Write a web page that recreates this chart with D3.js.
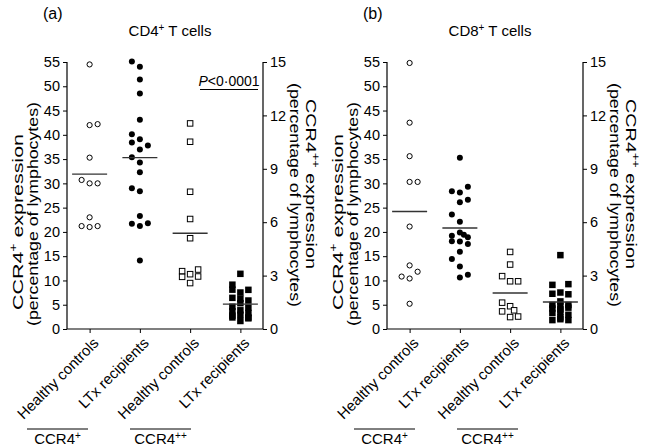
<!DOCTYPE html>
<html><head><meta charset="utf-8">
<script src="https://cdn.jsdelivr.net/npm/d3@7"></script>
<style>
html,body{margin:0;padding:0;background:#fff;}
svg{display:block;font-family:"Liberation Sans",Arial,Helvetica,sans-serif;}
</style></head>
<body>
<svg id="chart" width="649" height="448"></svg>
<script>
// ---------- data ----------
const categories = ["Healthy controls", "LTx recipients", "Healthy controls", "LTx recipients"];
const leftTicks = [0, 5, 10, 15, 20, 25, 30, 35, 40, 45, 50, 55];
const rightTicks = [0, 3, 6, 9, 12, 15];
const panelLetters = ["(a)", "(b)"];
const panelTitles = ["CD4", "CD8"];

// Panel (a) CD4+ T cells
const aHealthyCCR4p = [54.5, 42.0, 42.2, 35.3, 30.7, 30.0, 30.0, 23.0, 21.2, 21.0, 21.2];
const aHealthyCCR4pCol = [0, 0, 1, 0, -1, 0, 1, 0, -1, 0, 1];
const aLTxCCR4p = [55.1, 54.0, 51.4, 48.5, 43.1, 40.1, 39.1, 38.4, 37.0, 37.8, 35.4, 34.3, 32.3, 29.0, 28.4, 23.3, 21.7, 21.2, 21.8, 14.1];
const aLTxCCR4pCol = [-1, 0, 0, 0, 0, -1, 0, -1, 0, 1, -1, 0, 0, -1, 0, 0, -1, 0, 1, 0];
const aHealthyCCR4pp = [11.55, 10.52, 7.71, 6.18, 5.10, 3.25, 2.93, 3.08, 2.58, 3.34, 2.95];
const aHealthyCCR4ppCol = [0, 0, 0, 0, 0, -1, -1, 0, 0, 1, 1];
const aLTxCCR4pp = [3.10, 2.49, 2.21, 2.05, 2.20, 1.75, 1.70, 1.60, 1.45, 1.25, 1.20, 1.00, 1.05, 0.90, 0.75, 0.80, 0.60, 0.65, 0.45, 0.65];
const aLTxCCR4ppCol = [0, -1, -1, 0, 1, -1, 0, 1, 0, -1, 1, -1, 0, 1, -1, 0, 1, -1, 0, 1];
const aMeans = [31.9, 35.3, 5.38, 1.40];   // first two on left scale, last two on right scale

// Panel (b) CD8+ T cells
const bHealthyCCR4p = [54.8, 42.5, 35.6, 30.3, 30.3, 21.1, 13.1, 11.8, 10.8, 10.4, 5.2];
const bHealthyCCR4pCol = [0, 0, 0, 0, 1, 0, 0, 1, -1, 0, 0];
const bLTxCCR4p = [35.3, 28.4, 28.1, 29.3, 26.1, 26.6, 23.6, 22.1, 19.9, 19.4, 18.9, 19.2, 18.1, 18.0, 17.5, 15.9, 14.4, 12.9, 10.6, 11.2];
const bLTxCCR4pCol = [0, -1, 0, 1, 0, 1, -1, 0, 0, 0.5, 1, -1, -1, 0, 1, 0, -1, 0, 0, 1];
const bHealthyCCR4pp = [4.33, 3.62, 2.97, 2.68, 2.68, 1.48, 1.28, 1.05, 0.99, 0.67, 0.70];
const bHealthyCCR4ppCol = [0, 0, -1, 0, 1, -1, 0, 0.5, -1, 0, 1];
const bLTxCCR4pp = [4.15, 2.48, 2.52, 2.05, 1.98, 1.95, 1.55, 1.35, 1.30, 1.35, 1.15, 1.10, 1.20, 0.95, 0.90, 0.80, 0.65, 0.50, 0.50, 0.55];
const bLTxCCR4ppCol = [0, -1, 1, 0, -1, 1, 0, -1, 0, 1, -1, 0, 1, 0, -1, 1, 0, -1, 1, 0];
const bMeans = [24.2, 20.8, 2.02, 1.52];

const pValueText = "<0·0001";

// ---------- drawing ----------
const svg = d3.select("#chart");

// stretch a rotated title along its baseline to a target length
function fit(sel, base, target) {
  const len = sel.node().getComputedTextLength();
  sel.attr("transform", `${base} scale(${target / len},1)`);
}

function drawPanel(ox, idx, series, means, showP) {
  const g = svg.append("g").attr("transform", `translate(${ox},0)`);
  const x0 = 67, x1 = 263, yTop = 62, yBot = 329;
  const x = d3.scalePoint().domain(d3.range(categories.length)).range([x0, x1]).padding(0.45);
  const yL = d3.scaleLinear().domain([0, 55]).range([yBot, yTop]);
  const yR = d3.scaleLinear().domain([0, 15]).range([yBot, yTop]);

  // axes
  const axL = g.append("g").attr("transform", `translate(${x0},0)`)
    .call(d3.axisLeft(yL).tickValues(leftTicks).tickSize(4).tickPadding(3));
  const axR = g.append("g").attr("transform", `translate(${x1},0)`)
    .call(d3.axisRight(yR).tickValues(rightTicks).tickSize(4).tickPadding(3));
  const axB = g.append("g").attr("transform", `translate(0,${yBot})`)
    .call(d3.axisBottom(x).tickSize(4).tickFormat(""));
  [axL, axR, axB].forEach(a => {
    a.select(".domain").attr("stroke", "#000").attr("stroke-width", 1.2);
    a.selectAll(".tick line").attr("stroke", "#000");
    a.selectAll(".tick text").attr("font-size", 14.5).attr("fill", "#000")
      .attr("font-family", "Liberation Sans, Arial, sans-serif");
  });
  axB.select(".domain").attr("d", `M${x0},0H${x1}`);
  axL.select(".domain").attr("d", `M0,${yTop}V${yBot}`);
  axR.select(".domain").attr("d", `M0,${yTop}V${yBot}`);

  // category labels
  categories.forEach((c, i) => {
    g.append("text")
      .attr("transform", `translate(${x(i) + 10},${yBot + 15}) rotate(-45)`)
      .attr("text-anchor", "end").attr("font-size", 15).text(c);
  });

  // data points
  const J = 8;
  const scales = [yL, yL, yR, yR];
  series.forEach((s, i) => {
    const sc = scales[i];
    const pts = s.vals.map((v, k) => ({ v, c: s.cols[k] }));
    if (s.shape === "circle") {
      g.selectAll(null).data(pts).enter().append("circle")
        .attr("cx", d => x(i) + d.c * J).attr("cy", d => sc(d.v))
        .attr("r", s.filled ? 3 : 2.6)
        .attr("fill", s.filled ? "#000" : "#fff")
        .attr("stroke", "#000").attr("stroke-width", s.filled ? 0 : 1);
    } else {
      const sz = s.filled ? 6.5 : 5.5;
      g.selectAll(null).data(pts).enter().append("rect")
        .attr("x", d => x(i) + d.c * J - sz / 2).attr("y", d => sc(d.v) - sz / 2)
        .attr("width", sz).attr("height", sz)
        .attr("fill", s.filled ? "#000" : "#fff")
        .attr("stroke", "#000").attr("stroke-width", s.filled ? 0 : 1);
    }
    // mean line
    g.append("line")
      .attr("x1", x(i) - 17.5).attr("x2", x(i) + 17.5)
      .attr("y1", sc(means[i])).attr("y2", sc(means[i]))
      .attr("stroke", "#333").attr("stroke-width", 1.4);
  });

  // panel letter and title
  g.append("text").attr("x", 43).attr("y", 19).attr("font-size", 16).text(panelLetters[idx]);
  const t = g.append("text").attr("x", 170).attr("y", 36).attr("text-anchor", "middle").attr("font-size", 15);
  t.append("tspan").text(panelTitles[idx]);
  t.append("tspan").attr("font-size", 10).attr("dy", -5).text("+");
  t.append("tspan").attr("dy", 5).text(" T cells");

  // left axis titles
  const lt = g.append("text").attr("text-anchor", "middle").attr("font-size", 15.5);
  lt.append("tspan").text("CCR4");
  lt.append("tspan").attr("font-size", 10).attr("dy", -6).text("+");
  lt.append("tspan").attr("dy", 6).text(" expression");
  fit(lt, "translate(22.5,222) rotate(-90)", 176);
  const lp = g.append("text").attr("text-anchor", "middle").attr("font-size", 15.5).text("(percentage of lymphocytes)");
  fit(lp, "translate(38,214) rotate(-90)", 224);

  // right axis titles
  const rp = g.append("text").attr("text-anchor", "middle").attr("font-size", 15.5).text("(percentage of lymphocytes)");
  fit(rp, "translate(290,195) rotate(90)", 224);
  const rt = g.append("text").attr("text-anchor", "middle").attr("font-size", 15.5);
  rt.append("tspan").text("CCR4");
  rt.append("tspan").attr("font-size", 10).attr("dy", -6).text("++");
  rt.append("tspan").attr("dy", 6).text(" expression");
  fit(rt, "translate(306,184) rotate(90)", 170);

  // group brackets
  const groups = [{ a: 27, b: 88, sup: "+" }, { a: 130, b: 191, sup: "++" }];
  const gshift = idx === 1 ? 7 : 0;
  groups.forEach(gr => {
    g.append("line").attr("x1", gr.a + gshift).attr("x2", gr.b + gshift)
      .attr("y1", 429).attr("y2", 429).attr("stroke", "#000").attr("stroke-width", 1);
    const tt = g.append("text").attr("x", (gr.a + gr.b) / 2 + gshift).attr("y", 444)
      .attr("text-anchor", "middle").attr("font-size", 15);
    tt.append("tspan").text("CCR4");
    tt.append("tspan").attr("font-size", 10).attr("dy", -5).text(gr.sup);
  });

  if (showP) {
    const p = g.append("text").attr("x", 229).attr("y", 86).attr("text-anchor", "middle").attr("font-size", 14);
    p.append("tspan").attr("font-style", "italic").text("P");
    p.append("tspan").text(pValueText);
    g.append("line").attr("x1", 200).attr("x2", 258).attr("y1", 89.5).attr("y2", 89.5)
      .attr("stroke", "#000").attr("stroke-width", 1);
  }
}

drawPanel(0, 0, [
  { vals: aHealthyCCR4p, cols: aHealthyCCR4pCol, shape: "circle", filled: false },
  { vals: aLTxCCR4p, cols: aLTxCCR4pCol, shape: "circle", filled: true },
  { vals: aHealthyCCR4pp, cols: aHealthyCCR4ppCol, shape: "square", filled: false },
  { vals: aLTxCCR4pp, cols: aLTxCCR4ppCol, shape: "square", filled: true }
], aMeans, true);

drawPanel(320, 1, [
  { vals: bHealthyCCR4p, cols: bHealthyCCR4pCol, shape: "circle", filled: false },
  { vals: bLTxCCR4p, cols: bLTxCCR4pCol, shape: "circle", filled: true },
  { vals: bHealthyCCR4pp, cols: bHealthyCCR4ppCol, shape: "square", filled: false },
  { vals: bLTxCCR4pp, cols: bLTxCCR4ppCol, shape: "square", filled: true }
], bMeans, false);
</script>
</body></html>
